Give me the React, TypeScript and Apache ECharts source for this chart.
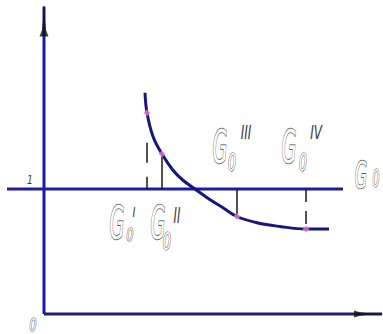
import React, { useEffect, useRef } from "react";
import * as echarts from "echarts";

// Curve of the relative quantity against G0 (axis units: x in G0, y relative)
const curveX = [1.01, 1.03, 1.09, 1.18, 1.29, 1.39, 1.51, 1.65, 1.79, 1.93, 2.13, 2.36, 2.62, 2.85];
const curveY = [1.77, 1.61, 1.42, 1.28, 1.15, 1.07, 1.0, 0.92, 0.85, 0.78, 0.73, 0.7, 0.68, 0.68];

// Marked operating points G0^I .. G0^IV
const markNames = ["I", "II", "III", "IV"];
const markX = [1.03, 1.18, 1.93, 2.62];
const markY = [1.61, 1.28, 0.78, 0.68];

// Drop lines from the level y = 1 at each marked point
const dropFrom = [1.37, 1.28, 1.0, 1.0];
const dropTo = [1.0, 1.0, 0.78, 0.68];
const dropDashed = [true, false, false, true];

// Reference level and axes extents
const levelY = 1;
const levelX = [-0.37, 2.99];
const xAxisEnd = 3.38;
const yAxisEnd = 2.46;

const ARROW = "path://M4,0 L5,0 L5.6,14 L6.6,22 L9,28 L0,28 L2.4,22 L3.4,14 Z";

const FONT = '"DejaVu Sans"';
const INK = "#383838";

function hollow(text: string, x: number, y: number, size: number, sx: number, lw = 1.4) {
  return {
    type: "text",
    x,
    y,
    scaleX: sx,
    z: 10,
    style: {
      text,
      font: `italic ${size}px ${FONT}`,
      align: "center",
      verticalAlign: "middle",
      fill: "#ffffff",
      stroke: INK,
      lineWidth: lw,
    },
  };
}

function thin(text: string, x: number, y: number, size: number, sx: number) {
  return {
    type: "text",
    x,
    y,
    scaleX: sx,
    z: 10,
    style: {
      text,
      font: `italic ${size}px ${FONT}`,
      align: "center",
      verticalAlign: "middle",
      fill: INK,
    },
  };
}

export default function App() {
  const ref = useRef<HTMLDivElement>(null);

  useEffect(() => {
    document.body.style.margin = "0";
    const chart = echarts.init(ref.current!, null, { renderer: "svg" });

    const curve = curveX.map((x, i) => [x, curveY[i]]);
    const marks = markX.map((x, i) => ({ name: markNames[i], value: [x, markY[i]] }));

    const dropSeries = markX.map((x, i) => ({
      type: "line",
      data: [
        [x, dropFrom[i]],
        [x, dropTo[i]],
      ],
      symbol: "none",
      z: 3,
      lineStyle: {
        color: "#262626",
        width: 1.6,
        type: dropDashed[i] ? (i === 0 ? [20, 14] : [13, 9]) : "solid",
      },
    }));

    const graphic = [
      // G0^I
      hollow("G", 117, 223, 46, 0.42),
      hollow("0", 130, 234, 18, 0.6, 1.1),
      thin("I", 134, 212, 14, 0.7),
      // G0^II
      hollow("G", 158, 223, 46, 0.42),
      hollow("0", 167, 242, 24, 0.55, 1.2),
      thin("II", 177, 216, 21, 0.55),
      // G0^III
      hollow("G", 220, 147, 46, 0.42),
      hollow("0", 232, 163, 25, 0.5, 1.2),
      thin("III", 246, 132, 20, 0.6),
      // G0^IV
      hollow("G", 289, 147, 46, 0.42),
      hollow("0", 303, 163, 25, 0.5, 1.2),
      thin("IV", 316, 132, 20, 0.6),
      // G0 at the end of the level line
      hollow("G", 361, 175, 38, 0.42),
      hollow("0", 376, 179, 24, 0.45, 1.2),
      // axis marks
      thin("1", 30, 180, 13, 0.7),
      hollow("0", 33, 324, 18, 0.6, 1.1),
    ];

    chart.setOption({
      animation: false,
      grid: { left: 0, right: 0, top: 0, bottom: 0 },
      xAxis: { type: "value", min: -0.44, max: 3.39, show: false },
      yAxis: { type: "value", min: -0.16, max: 2.512, show: false },
      tooltip: { show: false },
      series: [
        {
          type: "line",
          data: [
            [0, 0],
            [xAxisEnd, 0],
          ],
          symbol: "none",
          z: 2,
          lineStyle: { color: "#1e1e6c", width: 3 },
        },
        {
          type: "line",
          data: [
            [0, 0],
            [0, yAxisEnd],
          ],
          symbol: "none",
          z: 2,
          lineStyle: { color: "#1818b0", width: 3 },
        },
        {
          type: "line",
          data: [
            [levelX[0], levelY],
            [levelX[1], levelY],
          ],
          symbol: "none",
          z: 2,
          lineStyle: { color: "#1c1ca0", width: 3 },
        },
        ...dropSeries,
        {
          type: "line",
          data: curve,
          smooth: 0.4,
          symbol: "none",
          z: 4,
          lineStyle: { color: "#16167c", width: 3 },
        },
        {
          type: "scatter",
          data: marks,
          symbol: "diamond",
          symbolSize: 7,
          z: 5,
          itemStyle: { color: "#e47ccc" },
        },
        {
          type: "scatter",
          data: [[0, yAxisEnd - 15 / 125]],
          symbol: ARROW,
          symbolSize: [9, 30],
          z: 6,
          itemStyle: { color: "#111111" },
        },
        {
          type: "scatter",
          data: [[xAxisEnd - 0.14, 0]],
          symbol: ARROW,
          symbolSize: [7, 28],
          symbolRotate: -90,
          z: 6,
          itemStyle: { color: "#111111" },
        },
      ],
      graphic,
    });

    return () => chart.dispose();
  }, []);

  return <div ref={ref} style={{ width: 383, height: 334 }} />;
}
